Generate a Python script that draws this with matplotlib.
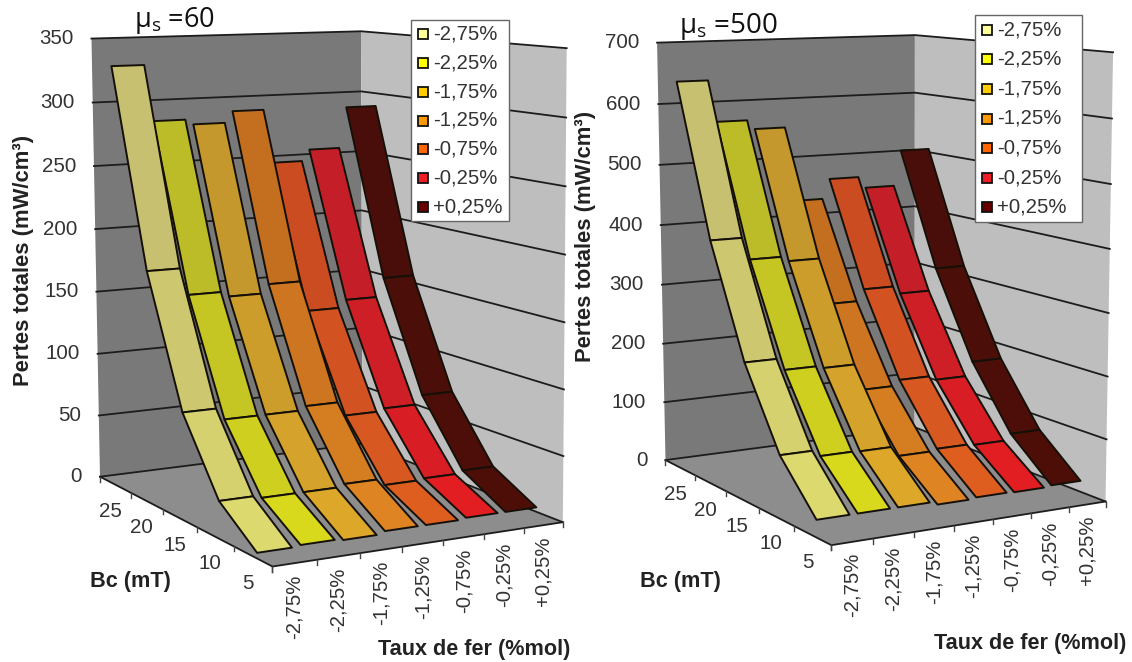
import numpy as np
from matplotlib import pyplot as plt
from matplotlib.colors import to_rgb
from matplotlib.patches import Polygon, Rectangle

plt.rcParams["font.family"] = ["Liberation Sans", "DejaVu Sans"]
plt.rcParams["mathtext.fontset"] = "custom"
plt.rcParams["mathtext.rm"] = "Open Sans"

taux = ["-2,75%", "-2,25%", "-1,75%", "-1,25%", "-0,75%", "-0,25%", "+0,25%"]
bc = ["25", "20", "15", "10", "5"]

# pertes totales (mW/cm3), one row per taux de fer, from Bc=25 to Bc=5
pertes_60 = [
    [330, 178, 80, 26, 2],
    [286, 157, 71, 24, 3],
    [282, 153, 71, 24, 2],
    [291, 160, 74, 26, 4],
    [248, 136, 63, 21, 4],
    [257, 142, 65, 22, 5],
    [290, 157, 72, 24, 5],
]
pertes_500 = [
    [640, 396, 219, 96, 23],
    [572, 360, 200, 86, 23],
    [557, 352, 196, 85, 23],
    [433, 275, 153, 69, 18],
    [466, 294, 162, 72, 20],
    [447, 281, 155, 70, 19],
    [507, 318, 178, 80, 21],
]
ticks_60 = [0, 50, 100, 150, 200, 250, 300, 350]
ticks_500 = [0, 100, 200, 300, 400, 500, 600, 700]

# ribbon colours, back segment then front segment
back_colors = ["#c6c070", "#bcbc28", "#c4982c", "#c46e20", "#cc4c22", "#c41e28", "#4a0e0a"]
front_colors = ["#dcd96e", "#d8d81c", "#dda82a", "#de8422", "#de5e20", "#e21e22", "#4e0e08"]
swatch_colors = ["#ffff99", "#ffff00", "#ffcc00", "#ff9900", "#ff6600", "#ee1c25", "#660000"]

WALL = "#797979"
SIDE = "#bebebe"
FLOOR = "#8d8d8d"
TEXT = "#333333"


def fit_box(corners):
    # projective map of the chart box onto the page, from its 7 visible corners
    A, b = [], []
    for (u, v, h), (x, y) in corners:
        A.append([u, v, h, 1, 0, 0, 0, 0, -x * u, -x * v, -x * h])
        b.append(x)
        A.append([0, 0, 0, 0, u, v, h, 1, -y * u, -y * v, -y * h])
        b.append(y)
    p = np.linalg.lstsq(np.array(A, float), np.array(b, float), rcond=None)[0]
    return np.append(p, 1).reshape(3, 4)


def draw_chart(ax, corners, values, ticks, title, title_xy, title_size, ylabel_xy, bc_xy, taux_xy, legend_box):
    P = fit_box(corners)
    zmax = ticks[-1]

    def proj(u, v, z):
        q = P @ [u, v, z / zmax, 1]
        return q[0] / q[2], q[1] / q[2]

    # walls and floor
    ax.add_patch(Polygon([proj(0, 0, 0), proj(1, 0, 0), proj(1, 0, zmax), proj(0, 0, zmax)],
                         fc=WALL, ec="none", zorder=1))
    ax.add_patch(Polygon([proj(1, 0, 0), proj(1, 1, 0), proj(1, 1, zmax), proj(1, 0, zmax)],
                         fc=SIDE, ec="none", zorder=1))
    ax.add_patch(Polygon([proj(0, 0, 0), proj(1, 0, 0), proj(1, 1, 0), proj(0, 1, 0)],
                         fc=FLOOR, ec="none", zorder=1))
    for z in ticks:
        pts = np.array([proj(0, 0, z), proj(1, 0, z), proj(1, 1, z)])
        ax.plot(pts[:, 0], pts[:, 1], color="#1c1c1c", lw=1.3, zorder=2)
        x, y = proj(0, 0, z)
        ax.text(x - 18, y, str(z), ha="right", va="center", fontsize=14.8, color=TEXT, zorder=6)

    # floor edges, ticks and their labels
    edge = np.array([proj(0, 0, 0), proj(0, 1, 0), proj(1, 1, 0)])
    ax.plot(edge[:, 0], edge[:, 1], color="#1c1c1c", lw=1.3, zorder=2)
    for k in range(len(bc) + 1):
        x, y = proj(0, k / len(bc), 0)
        ax.plot([x, x], [y, y + 5], color="#444444", lw=1, zorder=2)
    for k in range(len(taux) + 1):
        x, y = proj(k / len(taux), 1, 0)
        ax.plot([x, x], [y, y + 5], color="#444444", lw=1, zorder=2)
    for j, lab in enumerate(bc):
        x, y = proj(0, (j + 0.5) / len(bc), 0)
        ax.text(x - 5, y + 27, lab, ha="center", va="center", fontsize=14.8, color=TEXT)
    for i, lab in enumerate(taux):
        x, y = proj((i + 0.5) / len(taux), 1, 0)
        ax.text(x, y + 11, lab, rotation=90, ha="center", va="top", fontsize=14.6, color=TEXT)

    # ribbons, right to left so the left ones cover the right ones
    width = 0.8 / len(taux)
    for i in range(len(taux) - 1, -1, -1):
        u = (i + 0.5) / len(taux)
        row = values[i]
        c0 = np.array(to_rgb(back_colors[i]))
        c1 = np.array(to_rgb(front_colors[i]))
        for j in range(len(row) - 1):
            v0, v1 = (j + 0.5) / len(row), (j + 1.5) / len(row)
            quad = [proj(u - width / 2, v0, row[j]), proj(u + width / 2, v0, row[j]),
                    proj(u + width / 2, v1, row[j + 1]), proj(u - width / 2, v1, row[j + 1])]
            col = c0 + (c1 - c0) * j / (len(row) - 2)
            ax.add_patch(Polygon(quad, fc=col, ec="#141008", lw=1.4, joinstyle="round",
                                 zorder=3 + (len(taux) - i) * 0.01))

    # legend
    lx0, ly0, lx1, ly1 = legend_box
    ax.add_patch(Rectangle((lx0, ly0), lx1 - lx0, ly1 - ly0, fc="white", ec="#666666", lw=1, zorder=7))
    step = (ly1 - ly0) / len(taux)
    for i, lab in enumerate(taux):
        y = ly0 + step * (i + 0.5)
        ax.add_patch(Rectangle((lx0 + 7, y - 5), 10, 10, fc=swatch_colors[i], ec="#111111", lw=1.3, zorder=8))
        ax.text(lx0 + 22, y, lab, ha="left", va="center", fontsize=14.6, color=TEXT, zorder=8)

    # titles
    ax.text(*title_xy, title, ha="left", va="center", fontsize=title_size, color="#111111",
            family=["Open Sans", "DejaVu Sans"], zorder=8)
    ax.text(*ylabel_xy, "Pertes totales (mW/cm³)", rotation=90, ha="center", va="center",
            fontsize=15.8, fontweight="bold", color="#222222")
    ax.text(*bc_xy, "Bc (mT)", ha="center", va="center", fontsize=15.6, fontweight="bold", color="#222222")
    ax.text(*taux_xy, "Taux de fer (%mol)", ha="center", va="center", fontsize=15.6,
            fontweight="bold", color="#222222")


fig = plt.figure(figsize=(11.32, 6.62), dpi=100)
ax = fig.add_axes([0, 0, 1, 1])
ax.set_xlim(0, 1132)
ax.set_ylim(662, 0)
ax.axis("off")

corners_60 = [((0, 0, 0), (100, 475)), ((1, 0, 0), (362, 445)), ((1, 1, 0), (563, 521)), ((0, 1, 0), (273, 568)),
              ((0, 0, 1), (91, 39)), ((1, 0, 1), (362, 31)), ((1, 1, 1), (566, 48))]
corners_500 = [((0, 0, 0), (665, 459)), ((1, 0, 0), (915, 428)), ((1, 1, 0), (1105, 501)), ((0, 1, 0), (832, 546)),
               ((0, 0, 1), (657, 43)), ((1, 0, 1), (915, 35)), ((1, 1, 1), (1113, 52))]

draw_chart(ax, corners_60, pertes_60, ticks_60, r"μ$_{\mathrm{s}}$ =60", (134, 21), 19.5, (24, 260),
           (130, 581), (474, 650), (411, 20, 509, 221))
draw_chart(ax, corners_500, pertes_500, ticks_500, r"μ$_{\mathrm{s}}$ =500", (679, 26), 20, (585, 236),
           (680, 582), (1030, 643), (975, 15, 1082, 222))

plt.savefig("out.png", dpi=100)
